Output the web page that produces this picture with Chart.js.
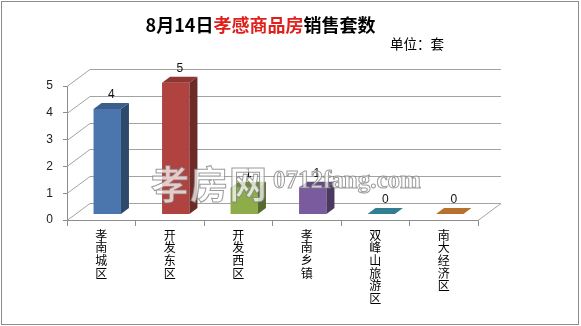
<!DOCTYPE html>
<html>
<head>
<meta charset="utf-8">
<script src="https://cdn.jsdelivr.net/npm/chart.js@4/dist/chart.umd.min.js"></script>
<style>
  body { margin: 0; background: #fff; }
  #wrap { position: relative; width: 581px; height: 326px; }
  #frame { position: absolute; left: 1px; top: 1px; width: 576px; height: 322px; border: 1px solid #8c8c8c; }
  #title { position: absolute; left: 0; width: 521px; top: 10px; text-align: center;
           font: bold 18px "Noto Sans CJK SC", sans-serif; color: #000; line-height: 28px; }
  #title .hl { color: #e0201c; }
  #unit { position: absolute; left: 390px; top: 33px; font: 13.5px "Noto Sans CJK SC", sans-serif; color: #000; }
  .mark { position: absolute; pointer-events: none; color: rgba(255,255,255,0.72);
          -webkit-text-stroke: 1px rgba(120,120,120,0.75); }
  #mark1 { left: 151px; top: 154px; font: bold 38px "Noto Sans CJK SC", sans-serif; letter-spacing: 1px; }
  #mark2 { left: 273px; top: 166px; font: bold 25px "Liberation Serif", serif; }
  canvas { position: absolute; left: 0; top: 0; }
</style>
</head>
<body>
<div id="wrap">
  <div id="frame"></div>
  <canvas id="chart" width="581" height="326"></canvas>
  <div id="title">8月14日<span class="hl">孝感商品房</span>销售套数</div>
  <div id="unit">单位：套</div>
  <div class="mark" id="mark1">孝房网</div>
  <div class="mark" id="mark2">0712fang.com</div>
</div>
<script>
var categories = ['孝南城区', '开发东区', '开发西区', '孝南乡镇', '双峰山旅游区', '南大经济区'];
var sales = [4, 5, 1, 1, 0, 0];
var yTicks = [0, 1, 2, 3, 4, 5];

var barColors = ['#4a76ad', '#b0433f', '#8cad4a', '#7a5c9e', '#3c99b2', '#e08838'];

// 3d look
var WALL_DX = 23, WALL_DY = 17;   // back wall offset
var BAR_DX = 6, BAR_DY = -6;      // where the bar front sits
var SIDE_DX = 8, SIDE_DY = 6;     // bar depth
var BAR_SCALE = 0.98;

function shade(hex, f) {
    var n = parseInt(hex.slice(1), 16);
    var r = Math.round(((n >> 16) & 255) * f);
    var g = Math.round(((n >> 8) & 255) * f);
    var b = Math.round((n & 255) * f);
    return 'rgb(' + r + ',' + g + ',' + b + ')';
}

function poly(ctx, pts, color) {
    ctx.beginPath();
    ctx.moveTo(pts[0][0], pts[0][1]);
    for (var i = 1; i < pts.length; i++) ctx.lineTo(pts[i][0], pts[i][1]);
    ctx.closePath();
    ctx.fillStyle = color;
    ctx.fill();
}

var depthPlugin = {
    id: 'depth3d',
    beforeDatasetsDraw: function(chart) {
        var ctx = chart.ctx, a = chart.chartArea, ys = chart.scales.y;
        ctx.save();
        ctx.strokeStyle = '#a3a3a3';
        ctx.lineWidth = 1;
        yTicks.forEach(function(v) {
            var y = Math.round(ys.getPixelForValue(v)) + 0.5;
            ctx.beginPath();
            ctx.moveTo(a.left, y);
            ctx.lineTo(a.left + WALL_DX, y - WALL_DY);
            ctx.lineTo(a.right + WALL_DX, y - WALL_DY);
            if (v === 0) ctx.lineTo(a.right, y);
            ctx.stroke();
        });
        ctx.restore();
    },
    afterDatasetsDraw: function(chart) {
        var ctx = chart.ctx, ys = chart.scales.y;
        var meta = chart.getDatasetMeta(0);
        var zero = ys.getPixelForValue(0);
        ctx.save();
        meta.data.forEach(function(bar, i) {
            var col = barColors[i];
            var half = bar.width / 2;
            var x0 = bar.x - half + BAR_DX, x1 = bar.x + half + BAR_DX;
            var yb = zero + BAR_DY;
            var yt = yb - (zero - bar.y) * BAR_SCALE;
            if (sales[i] > 0) {
                poly(ctx, [[x0, yb], [x1, yb], [x1, yt], [x0, yt]], col);
                poly(ctx, [[x1, yb], [x1 + SIDE_DX, yb - SIDE_DY], [x1 + SIDE_DX, yt - SIDE_DY], [x1, yt]], shade(col, 0.62));
                poly(ctx, [[x0, yt], [x0 + SIDE_DX, yt - SIDE_DY], [x1 + SIDE_DX, yt - SIDE_DY], [x1, yt]], shade(col, 0.8));
            } else {
                poly(ctx, [[x0, yt], [x0 + SIDE_DX, yt - SIDE_DY], [x1 + SIDE_DX, yt - SIDE_DY], [x1, yt]], shade(col, 0.82));
            }
            ctx.fillStyle = '#111';
            ctx.font = '12px "Liberation Sans", sans-serif';
            ctx.textAlign = 'center';
            ctx.textBaseline = 'middle';
            ctx.fillText(String(sales[i]), bar.x + BAR_DX + SIDE_DX / 2, yt - 14);
        });
        ctx.restore();
    }
};

new Chart(document.getElementById('chart'), {
    type: 'bar',
    data: {
        labels: categories.map(function(c) { return c.split(''); }),
        datasets: [{
            data: sales,
            backgroundColor: 'rgba(0,0,0,0)',
            barPercentage: 0.4,
            categoryPercentage: 1
        }]
    },
    options: {
        responsive: false,
        animation: false,
        layout: { padding: { top: 86, right: 103, left: 0, bottom: 0 } },
        plugins: { legend: { display: false }, tooltip: { enabled: false }, title: { display: false } },
        scales: {
            x: {
                grid: { drawOnChartArea: false, drawTicks: true, tickLength: 6, color: '#8c8c8c', offset: true },
                border: { display: true, color: '#8c8c8c' },
                ticks: {
                    color: '#000', maxRotation: 0, minRotation: 0, autoSkip: false, padding: 3,
                    font: { family: '"Noto Sans CJK SC", sans-serif', size: 12, lineHeight: 1.05 }
                },
                afterFit: function(s) { s.height = 106; }
            },
            y: {
                min: 0, max: 5,
                grid: { drawOnChartArea: false, drawTicks: true, tickLength: 4, color: '#8c8c8c' },
                border: { display: true, color: '#8c8c8c' },
                ticks: {
                    stepSize: 1, color: '#222', padding: 10,
                    font: { family: '"Liberation Sans", sans-serif', size: 12 }
                },
                afterFit: function(s) { s.width = 67; }
            }
        }
    },
    plugins: [depthPlugin]
});
</script>
</body>
</html>
